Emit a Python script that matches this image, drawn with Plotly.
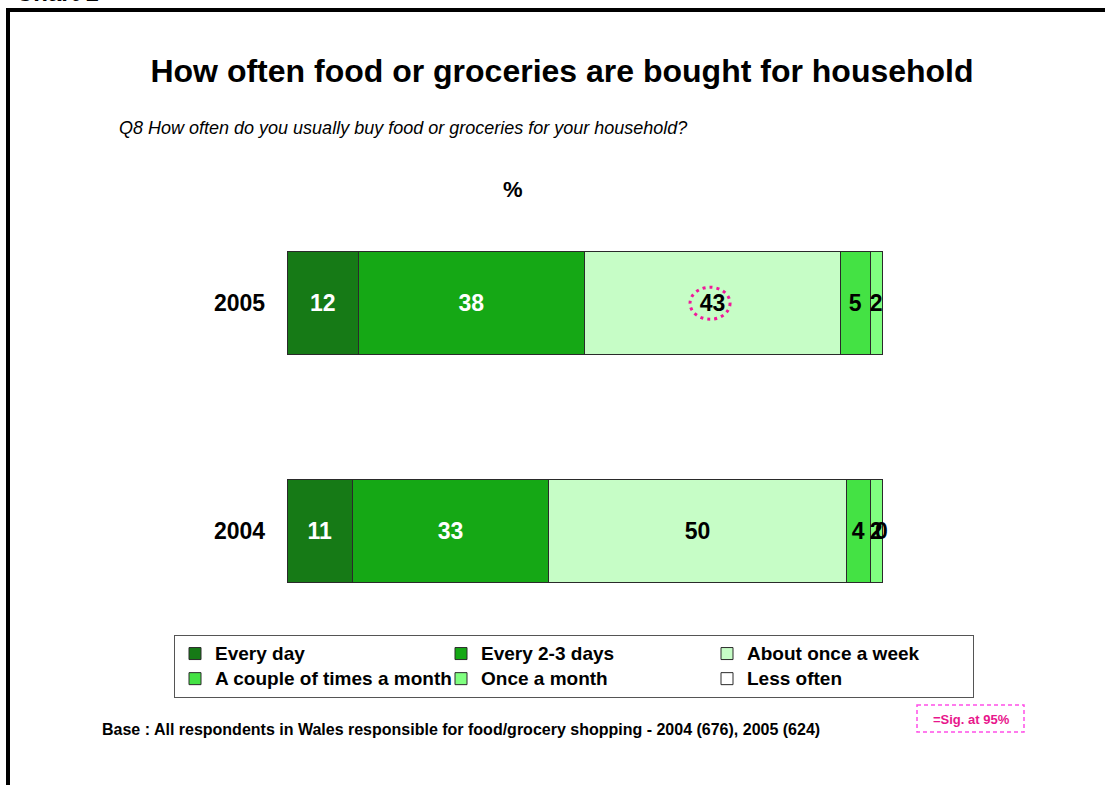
import plotly.graph_objects as go

# ---- data ----
years = ["2005", "2004"]
category_order = ["2004", "2005"]
series_names = ["Every day", "Every 2-3 days", "About once a week",
                "A couple of times a month", "Once a month", "Less often"]
every_day = [12, 11]
every_2_3_days = [38, 33]
once_a_week = [43, 50]
couple_a_month = [5, 4]
once_a_month = [2, 2]
less_often = [0, 0]
less_often_labels = ["", "0"]

# ---- styling ----
W, H = 1105, 785
L, R, T, B = 174, 105, 235, 186
PW, PH = W - L - R, H - T - B
FONT = "Liberation Sans, Arial, sans-serif"
colors = ["#167A16", "#15A815", "#C6FDC6", "#44E244", "#80FF80", "#FFFFFF"]
text_colors = ["white", "white", "black", "black", "black", "black"]
X0_PX, X100_PX = 287, 882
scale = (X100_PX - X0_PX) / 100.0
xr = [-(X0_PX - L) / scale, (L + PW - X0_PX) / scale]
y_unit = PH / 1.6


def px(x):
    return (x - L) / PW


def py(y):
    return (H - B - y) / PH


values = [every_day, every_2_3_days, once_a_week, couple_a_month, once_a_month, less_often]
texts = [[str(v) for v in every_day], [str(v) for v in every_2_3_days],
         [str(v) for v in once_a_week], [str(v) for v in couple_a_month],
         [str(v) for v in once_a_month], less_often_labels]

fig = go.Figure()
for name, vals, txt, c, tc in zip(series_names, values, texts, colors, text_colors):
    fig.add_trace(go.Bar(
        y=years, x=vals, name=f"<span style='font-size:19px'>{name}</span>", orientation="h",
        marker=dict(color=c, line=dict(color="#2a2a2a", width=1)),
        text=txt, textposition="inside", insidetextanchor="middle",
        textangle=0, constraintext="none",
        textfont=dict(family=FONT, size=23, color=tc, weight="bold"),
        width=0.453, hoverinfo="skip",
    ))

fig.update_layout(
    width=W, height=H, barmode="stack",
    margin=dict(l=L, r=R, t=T, b=B, autoexpand=False),
    paper_bgcolor="white", plot_bgcolor="white",
    font=dict(family=FONT, color="black"),
    showlegend=True,
    title=dict(text="<b>How often food or groceries are bought for household</b>",
               x=562 / W, xanchor="center", y=1 - 71 / H, yanchor="middle",
               font=dict(family=FONT, size=32, color="black")),
    legend=dict(orientation="h", x=0, xanchor="left", y=py(635), yanchor="top",
                bgcolor="white", bordercolor="#555555", borderwidth=1,
                entrywidth=221, entrywidthmode="pixels", traceorder="normal",
                font=dict(family=FONT, size=17, color="black", weight="bold")),
    xaxis=dict(range=xr, visible=False, fixedrange=True),
    yaxis=dict(type="category", categoryorder="array", categoryarray=category_order,
               range=[-0.3, 1.3], showticklabels=False, showgrid=False,
               zeroline=False, showline=False, ticks=""),
)

# year labels
for yv in years:
    fig.add_annotation(x=0, y=category_order.index(yv), xref="x", yref="y",
                       text=f"<b>{yv}</b>",
                       showarrow=False, xanchor="right", yanchor="middle", xshift=-20,
                       font=dict(family=FONT, size=23, color="black"))

# label of zero-width bar (Less often, 2004)
for i, yv in enumerate(years):
    if less_often_labels[i]:
        total = (every_day[i] + every_2_3_days[i] + once_a_week[i] + couple_a_month[i]
                 + once_a_month[i] + less_often[i])
        fig.add_annotation(x=total, y=category_order.index(yv), xref="x", yref="y",
                           text=f"<b>{less_often_labels[i]}</b>", showarrow=False,
                           xanchor="center", yanchor="middle", xshift=-1,
                           font=dict(family=FONT, size=23, color="black"))

# subtitle, %, base note, chart label
fig.add_annotation(x=px(117), y=py(128), xref="paper", yref="paper",
                   text="<i>Q8 How often do you usually buy food or groceries for your household?</i>",
                   showarrow=False, xanchor="left", yanchor="middle",
                   font=dict(family=FONT, size=18, color="black"))
fig.add_annotation(x=px(513), y=py(189), xref="paper", yref="paper",
                   text="<b>%</b>", showarrow=False, xanchor="center", yanchor="middle",
                   font=dict(family=FONT, size=22, color="black"))
fig.add_annotation(x=px(100), y=py(729), xref="paper", yref="paper",
                   text="<b>Base : All respondents in Wales responsible for food/grocery shopping - 2004 (676), 2005 (624)</b>",
                   showarrow=False, xanchor="left", yanchor="middle",
                   font=dict(family=FONT, size=16, color="black"))
fig.add_annotation(x=px(14), y=py(-7), xref="paper", yref="paper",
                   text="<b>Chart 1</b>", showarrow=False, xanchor="left", yanchor="middle",
                   font=dict(family=FONT, size=24, color="black"))

# significance key
fig.add_shape(type="rect", xref="paper", yref="paper",
              x0=px(917), x1=px(1024), y0=py(705), y1=py(732),
              line=dict(color="#FF4FE8", width=1.5, dash="4px,3px"), fillcolor="rgba(0,0,0,0)")
fig.add_annotation(x=px(971), y=py(719), xref="paper", yref="paper",
                   text="<b>=Sig. at 95%</b>", showarrow=False, xanchor="center", yanchor="middle",
                   font=dict(family=FONT, size=13, color="#E8168C"))

# significance marker around 43 (2005, about once a week)
cx = every_day[0] + every_2_3_days[0] + once_a_week[0] / 2
cy = category_order.index(years[0])
fig.add_shape(type="circle", xref="x", yref="y",
              x0=cx - 20 / scale - 0.4, x1=cx + 20 / scale - 0.4,
              y0=cy - 16 / y_unit, y1=cy + 16 / y_unit,
              line=dict(color="#F0189A", width=3, dash="3px,4px"))

# frame
fig.add_shape(type="line", xref="paper", yref="paper",
              x0=px(6), x1=px(W + 5), y0=py(10), y1=py(10),
              line=dict(color="black", width=4))
fig.add_shape(type="line", xref="paper", yref="paper",
              x0=px(8), x1=px(8), y0=py(8), y1=py(H + 5),
              line=dict(color="black", width=4))

fig.write_html("out.html")
